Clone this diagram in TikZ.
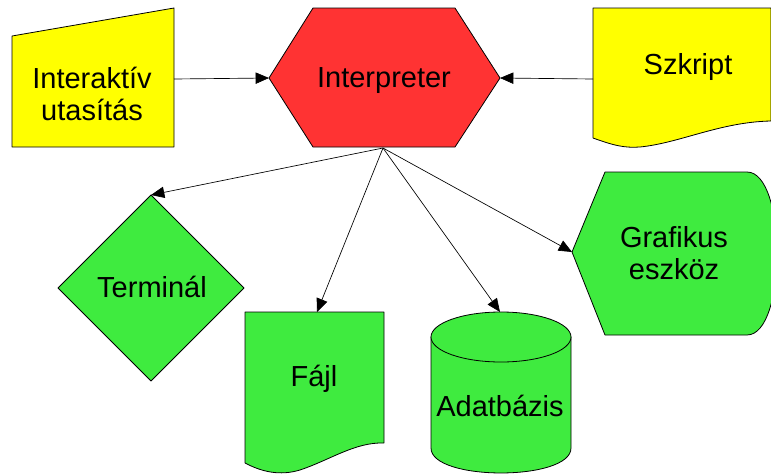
\documentclass[tikz,border=0pt]{standalone}
\usepackage{fontspec}
\setmainfont{Liberation Sans}
\usetikzlibrary{arrows.meta}
\definecolor{inyellow}{RGB}{255,255,0}
\definecolor{procred}{RGB}{255,51,51}
\definecolor{outgreen}{RGB}{63,235,63}

\begin{document}
\begin{tikzpicture}[
    x=0.75pt, y=-0.75pt,
    shp/.style={draw=black, line width=0.6pt, line join=round},
    lbl/.style={font=\fontsize{21.75}{24}\selectfont, align=center, inner sep=0pt},
    arr/.style={-{Triangle[length=10pt, width=8.5pt]}, line width=0.5pt}
    ]
    \useasboundingbox (0,0) rectangle (771,475);
    % inputs
    \draw[shp, fill=inyellow] (12,36) -- (174,8) -- (174,147) -- (12,147) -- cycle;
    \node[lbl] (interakt) at (92,94) {Interaktív\\utasítás};
    \coordinate (interakt-e) at (174,79);
    \draw[shp, fill=inyellow] (593,8) -- (771,8) -- (771,121)
        .. controls (720,122) and (680,143) .. (640,147)
        .. controls (625,148) and (615,146) .. (593,138) -- cycle;
    \node[lbl, anchor=base] (szkript) at (688,74) {Szkript};
    \coordinate (szkript-w) at (593,79);
    % interpreter
    \draw[shp, fill=procred] (269,78) -- (313,8) -- (455,8) -- (500,78)
        -- (455,147) -- (313,147) -- cycle;
    \node[lbl, anchor=base] (interp) at (384,87) {Interpreter};
    \coordinate (interp-w) at (269,78);
    \coordinate (interp-e) at (500,78);
    \coordinate (interp-s) at (383,148);
    % outputs
    \draw[shp, fill=outgreen] (151,195) -- (244,288) -- (151,381) -- (58,288) -- cycle;
    \node[lbl, anchor=base] (term) at (152,297) {Terminál};
    \coordinate (term-n) at (151,195);
    \draw[shp, fill=outgreen] (245,312) -- (384,312) -- (384,443)
        .. controls (355,442) and (330,460) .. (300,470)
        .. controls (280,476) and (262,472) .. (245,463) -- cycle;
    \node[lbl, anchor=base] (fajl) at (314,386) {Fájl};
    \coordinate (fajl-n) at (317,312);
    \draw[shp, fill=outgreen] (431,337) -- (431,448)
        .. controls (431,481.3) and (571,481.3) .. (571,448) -- (571,337) -- cycle;
    \draw[shp, fill=outgreen] (501,337) ellipse [x radius=70, y radius=25];
    \node[lbl, anchor=base] (adat) at (500,416) {Adatbázis};
    \coordinate (adat-n) at (500,312);
    \draw[shp, fill=outgreen] (572,252) -- (605,172) -- (747,172)
        .. controls (787,172) and (787,335) .. (747,335) -- (605,335) -- cycle;
    \node[lbl] (graf) at (674,253) {Grafikus\\eszköz};
    \coordinate (graf-w) at (572,252);
    % connectors
    \draw[arr] (interakt-e) -- (interp-w);
    \draw[arr] (szkript-w) -- (interp-e);
    \draw[arr] (interp-s) -- (term-n);
    \draw[arr] (interp-s) -- (fajl-n);
    \draw[arr] (interp-s) -- (adat-n);
    \draw[arr] (interp-s) -- (graf-w);
\end{tikzpicture}
\end{document}
